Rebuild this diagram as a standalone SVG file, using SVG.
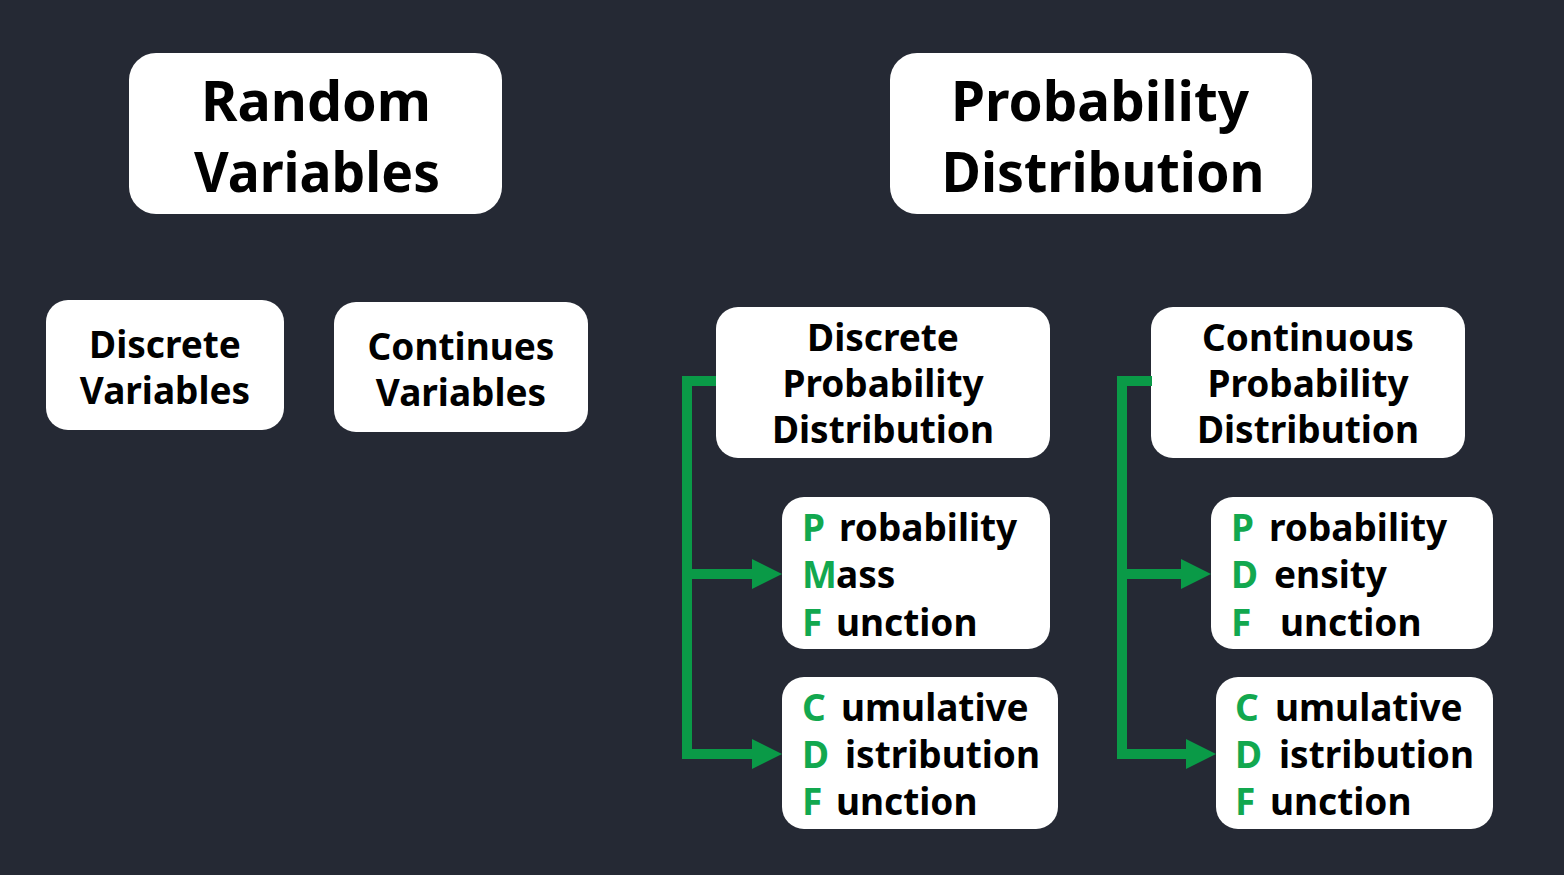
<svg xmlns="http://www.w3.org/2000/svg" width="1564" height="875" viewBox="0 0 1564 875">
<style>
.box{fill:#ffffff}
text{font-family:"Noto Sans","Open Sans","DejaVu Sans",sans-serif;font-weight:bold;fill:#000000}
.big{font-size:56px;text-anchor:middle}
.mid{font-size:37px;text-anchor:middle}
.sm{font-size:37px}
.g{fill:#12a84f}
.conn{fill:none;stroke:#0a9a47;stroke-width:10;stroke-linejoin:miter}
</style>
<rect width="1564" height="875" fill="#252934"/>

<g id="random-variables">
<rect class="box" x="129" y="53" width="373" height="161" rx="27"/>
<text class="big" x="316" y="121" textLength="230" lengthAdjust="spacingAndGlyphs">Random</text>
<text class="big" x="317" y="192" textLength="246" lengthAdjust="spacingAndGlyphs">Variables</text>
</g>

<g id="probability-distribution">
<rect class="box" x="890" y="53" width="422" height="161" rx="27"/>
<text class="big" x="1100" y="121" textLength="298" lengthAdjust="spacingAndGlyphs">Probability</text>
<text class="big" x="1103" y="192" textLength="323" lengthAdjust="spacingAndGlyphs">Distribution</text>
</g>

<g id="discrete-variables">
<rect class="box" x="46" y="300" width="238" height="130" rx="22"/>
<text class="mid" x="165" y="358">Discrete</text>
<text class="mid" x="165" y="404">Variables</text>
</g>

<g id="continues-variables">
<rect class="box" x="334" y="302" width="254" height="130" rx="22"/>
<text class="mid" x="461" y="360">Continues</text>
<text class="mid" x="461" y="406">Variables</text>
</g>

<g id="discrete-probability-distribution">
<rect class="box" x="716" y="307" width="334" height="151" rx="22"/>
<text class="mid" x="883" y="351">Discrete</text>
<text class="mid" x="883" y="397">Probability</text>
<text class="mid" x="883" y="443">Distribution</text>
</g>

<g id="continuous-probability-distribution">
<rect class="box" x="1151" y="307" width="314" height="151" rx="22"/>
<text class="mid" x="1308" y="351">Continuous</text>
<text class="mid" x="1308" y="397">Probability</text>
<text class="mid" x="1308" y="443">Distribution</text>
</g>

<g id="pmf">
<rect class="box" x="782" y="497" width="268" height="152" rx="22"/>
<text class="sm g" x="802" y="541">P</text><text class="sm" x="839" y="541">robability</text>
<text class="sm g" x="802" y="588">M</text><text class="sm" x="836" y="588">ass</text>
<text class="sm g" x="802" y="636">F</text><text class="sm" x="836" y="636">unction</text>
</g>

<g id="cdf-discrete">
<rect class="box" x="782" y="677" width="276" height="152" rx="22"/>
<text class="sm g" x="802" y="721">C</text><text class="sm" x="841" y="721">umulative</text>
<text class="sm g" x="802" y="768">D</text><text class="sm" x="845" y="768">istribution</text>
<text class="sm g" x="802" y="815">F</text><text class="sm" x="836" y="815">unction</text>
</g>

<g id="pdf">
<rect class="box" x="1211" y="497" width="282" height="152" rx="22"/>
<text class="sm g" x="1231" y="541">P</text><text class="sm" x="1269" y="541">robability</text>
<text class="sm g" x="1231" y="588">D</text><text class="sm" x="1274" y="588">ensity</text>
<text class="sm g" x="1231" y="636">F</text><text class="sm" x="1280" y="636">unction</text>
</g>

<g id="cdf-continuous">
<rect class="box" x="1216" y="677" width="277" height="152" rx="22"/>
<text class="sm g" x="1235" y="721">C</text><text class="sm" x="1275" y="721">umulative</text>
<text class="sm g" x="1235" y="768">D</text><text class="sm" x="1279" y="768">istribution</text>
<text class="sm g" x="1235" y="815">F</text><text class="sm" x="1270" y="815">unction</text>
</g>

<g id="connectors">
<path class="conn" d="M716,381 H687 V754 H760"/>
<path class="conn" d="M687,574 H760"/>
<path class="conn" d="M1152,381 H1122 V754 H1194"/>
<path class="conn" d="M1122,574 H1189"/>
<polygon points="752,559 782,574 752,589" fill="#0a9a47"/>
<polygon points="752,739 782,754 752,769" fill="#0a9a47"/>
<polygon points="1181,559 1211,574 1181,589" fill="#0a9a47"/>
<polygon points="1186,739 1216,754 1186,769" fill="#0a9a47"/>
</g>
</svg>
